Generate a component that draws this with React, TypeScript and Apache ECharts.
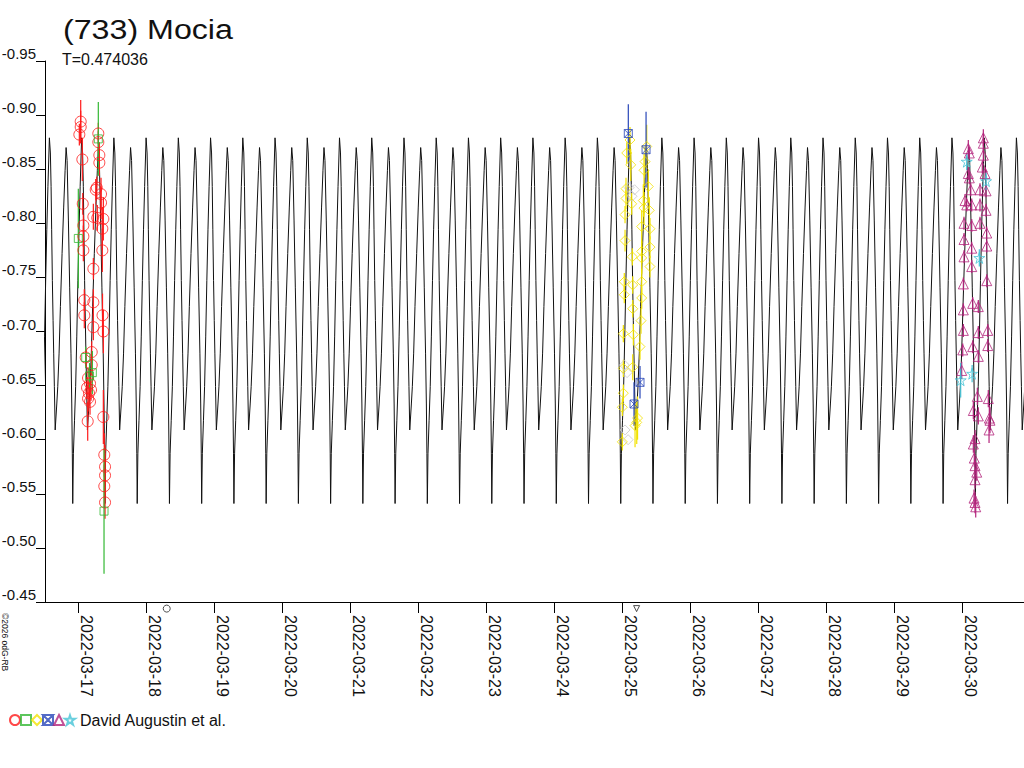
import React, { useEffect, useRef } from 'react';
import * as echarts from 'echarts';

const TITLE = '(733) Mocia';
const SUBTITLE = 'T=0.474036';
const CREDIT = 'David Augustin et al.';
const COPYRIGHT = '©2026 odG-RB';

// time axis: days since 2022-03-17 00:00
const X_MIN = -0.49;
const X_MAX = 13.907;
const DAY_TICKS = [0, 1, 2, 3, 4, 5, 6, 7, 8, 9, 10, 11, 12, 13];
const Y_MIN = -0.95;
const Y_MAX = -0.45;
const Y_STEP = 0.05;

// model lightcurve: one rotation period, phase 0 = taller maximum
const PERIOD = 0.474036;
const EPOCH = 0.0484;
const cyclePhase = [0, 0.031, 0.053, 0.071, 0.093, 0.115, 0.134, 0.155, 0.18, 0.23, 0.26, 0.301, 0.342, 0.394, 0.444, 0.488, 0.519, 0.55, 0.59, 0.63, 0.67, 0.695, 0.712, 0.725, 0.745, 0.78, 0.815, 0.85, 0.885, 0.92, 0.955, 1.0];
const cycleMag = [-0.879, -0.865, -0.834, -0.794, -0.747, -0.71, -0.68, -0.649, -0.609, -0.633, -0.649, -0.68, -0.723, -0.772, -0.815, -0.849, -0.87, -0.858, -0.803, -0.741, -0.68, -0.633, -0.587, -0.541, -0.587, -0.618, -0.649, -0.695, -0.747, -0.794, -0.834, -0.879];

// observations: [day, magnitude, error]
const redPoints = [
  [0.035, -0.894, 0.02], [0.035, -0.889, 0.015], [0.015, -0.882, 0.01], [0.059, -0.859, 0.02],
  [0.294, -0.883, 0.01], [0.294, -0.875, 0.01], [0.309, -0.863, 0.012], [0.309, -0.856, 0.012],
  [0.271, -0.833, 0.01], [0.256, -0.831, 0.01], [0.334, -0.827, 0.015], [0.334, -0.819, 0.015],
  [0.065, -0.818, 0.01], [0.221, -0.806, 0.012], [0.279, -0.805, 0.012], [0.368, -0.804, 0.02],
  [0.353, -0.795, 0.02], [0.074, -0.798, 0.01], [0.074, -0.788, 0.01], [0.074, -0.775, 0.01],
  [0.353, -0.775, 0.02], [0.221, -0.758, 0.01], [0.088, -0.729, 0.01], [0.221, -0.727, 0.012],
  [0.088, -0.715, 0.012], [0.356, -0.715, 0.02], [0.221, -0.704, 0.012], [0.368, -0.7, 0.02],
  [0.197, -0.681, 0.01], [0.109, -0.676, 0.008], [0.197, -0.669, 0.01], [0.143, -0.657, 0.01],
  [0.172, -0.652, 0.01], [0.128, -0.648, 0.01], [0.157, -0.643, 0.012], [0.187, -0.646, 0.01],
  [0.143, -0.638, 0.012], [0.172, -0.635, 0.012], [0.138, -0.617, 0.018], [0.368, -0.621, 0.025],
  [0.382, -0.586, 0.02], [0.393, -0.575, 0.02], [0.393, -0.567, 0.02], [0.382, -0.557, 0.02],
  [0.393, -0.542, 0.015],
];
const greenPoints = [
  [0.294, -0.878, 0.034], [0.0, -0.786, 0.046], [0.109, -0.676, 0.01], [0.165, -0.659, 0.012],
  [0.206, -0.662, 0.02], [0.378, -0.534, 0.058],
];
const yellowPoints = [
  [8.113, -0.877, 0.012], [8.065, -0.865, 0.01], [8.124, -0.854, 0.015], [8.359, -0.871, 0.02],
  [8.334, -0.857, 0.015], [8.319, -0.849, 0.015], [8.054, -0.832, 0.01], [8.054, -0.823, 0.01],
  [8.138, -0.818, 0.01], [8.382, -0.834, 0.015], [8.309, -0.821, 0.015], [8.319, -0.814, 0.015],
  [8.397, -0.812, 0.012], [8.04, -0.808, 0.008], [8.285, -0.797, 0.015], [8.407, -0.795, 0.01],
  [8.04, -0.784, 0.01], [8.147, -0.769, 0.008], [8.285, -0.774, 0.01], [8.407, -0.778, 0.01],
  [8.407, -0.76, 0.01], [8.285, -0.768, 0.015], [8.029, -0.746, 0.008], [8.153, -0.743, 0.008],
  [8.285, -0.746, 0.012], [8.029, -0.734, 0.008], [8.285, -0.731, 0.01], [8.153, -0.721, 0.008],
  [8.275, -0.71, 0.012], [8.015, -0.698, 0.008], [8.162, -0.697, 0.01], [8.26, -0.686, 0.012],
  [8.015, -0.666, 0.008], [8.153, -0.667, 0.012], [8.015, -0.643, 0.008], [8.0, -0.63, 0.008],
  [8.212, -0.616, 0.02], [8.187, -0.613, 0.02], [8.224, -0.62, 0.02], [8.0, -0.598, 0.008],
];
const greyPoints = [
  [8.099, -0.833, 0.0], [8.143, -0.825, 0.0], [8.18, -0.831, 0.0], [8.07, -0.662, 0.0],
  [8.03, -0.669, 0.0], [8.04, -0.609, 0.0], [8.085, -0.6, 0.0],
];
const bluePoints = [
  [8.088, -0.883, 0.027], [8.349, -0.868, 0.035], [8.26, -0.653, 0.015], [8.172, -0.633, 0.02],
];
const magentaPoints = [
  [13.309, -0.879, 0.008], [13.309, -0.874, 0.008], [13.088, -0.869, 0.008], [13.103, -0.865, 0.006],
  [13.309, -0.863, 0.006], [13.088, -0.846, 0.006], [13.294, -0.852, 0.006], [13.334, -0.846, 0.006],
  [13.103, -0.842, 0.006], [13.124, -0.831, 0.006], [13.26, -0.831, 0.006], [13.349, -0.83, 0.006],
  [13.04, -0.821, 0.006], [13.065, -0.817, 0.006], [13.138, -0.817, 0.006], [13.26, -0.817, 0.006],
  [13.349, -0.812, 0.006], [13.025, -0.8, 0.006], [13.138, -0.798, 0.006], [13.26, -0.8, 0.006],
  [13.359, -0.791, 0.006], [13.025, -0.785, 0.006], [13.138, -0.777, 0.006], [13.359, -0.779, 0.006],
  [13.025, -0.769, 0.006], [13.138, -0.76, 0.006], [13.359, -0.747, 0.006], [13.015, -0.744, 0.006],
  [13.153, -0.726, 0.006], [13.235, -0.723, 0.006], [13.015, -0.72, 0.006], [13.015, -0.701, 0.006],
  [13.374, -0.701, 0.006], [13.235, -0.699, 0.006], [13.006, -0.683, 0.006], [13.153, -0.686, 0.006],
  [13.374, -0.687, 0.006], [13.235, -0.677, 0.006], [12.991, -0.664, 0.008], [13.221, -0.64, 0.008],
  [13.382, -0.638, 0.008], [13.162, -0.627, 0.008], [13.235, -0.622, 0.008], [13.397, -0.62, 0.012],
  [13.407, -0.618, 0.012], [13.393, -0.609, 0.012], [13.187, -0.601, 0.008], [13.162, -0.596, 0.008],
  [13.176, -0.583, 0.008], [13.187, -0.576, 0.008], [13.212, -0.57, 0.008], [13.187, -0.563, 0.008],
  [13.172, -0.546, 0.008], [13.187, -0.542, 0.01], [13.197, -0.538, 0.01],
];
const cyanPoints = [
  [13.065, -0.857, 0.008], [13.349, -0.839, 0.008], [13.25, -0.768, 0.008], [13.144, -0.661, 0.008],
  [12.976, -0.655, 0.016],
];
// session markers drawn just below the time axis
const sessionCircle = [[1.3, -0.4439]];
const sessionTriangle = [[8.21, -0.4439]];

const FONT = '"Liberation Sans", Arial, Helvetica, sans-serif';
const STAR = 'path://M5,0L6.2,3.6L10,3.6L6.9,5.8L8.1,9.5L5,7.2L1.9,9.5L3.1,5.8L0,3.6L3.8,3.6Z';
const HOURGLASS = 'path://M0,0L10,0L0,10L10,10ZM0,0L0,10M10,0L10,10';

const sets = [
  { name: 's1', data: redPoints, color: '#ff1a1a', symbol: 'circle', size: 11 },
  { name: 's2', data: greenPoints, color: '#33b833', symbol: 'rect', size: 8 },
  { name: 's3', data: yellowPoints, color: '#f2e200', symbol: 'diamond', size: 10 },
  { name: 's4', data: bluePoints, color: '#2846b8', symbol: HOURGLASS, size: 8 },
  { name: 's5', data: magentaPoints, color: '#b3247c', symbol: 'triangle', size: 10 },
  { name: 's6', data: cyanPoints, color: '#45c3d6', symbol: STAR, size: 11 },
  { name: 'grey', data: greyPoints, color: '#c8c8c8', symbol: 'diamond', size: 10 },
];

function buildModel() {
  const out: number[][] = [];
  for (let k = -2; k <= 31; k++) {
    for (let i = 0; i < cyclePhase.length - 1; i++) {
      const t = EPOCH + (k + cyclePhase[i]) * PERIOD;
      if (t >= X_MIN - 0.6 && t <= X_MAX + 0.6) out.push([t, cycleMag[i]]);
    }
  }
  return out;
}

function fmtDay(v: number) {
  const d = new Date(Date.UTC(2022, 2, 17 + Math.round(v)));
  return d.toISOString().slice(0, 10);
}

export default function App() {
  const ref = useRef<HTMLDivElement>(null);
  useEffect(() => {
    if (!ref.current) return;
    const chart = echarts.init(ref.current, undefined, { renderer: 'svg' });
    const series: any[] = [
      {
        type: 'line',
        name: 'model',
        data: buildModel(),
        showSymbol: false,
        symbol: 'none',
        lineStyle: { color: '#111', width: 1 },
        silent: true,
        z: 1,
      },
    ];
    sets.forEach((s) => {
      series.push({
        type: 'custom',
        name: s.name + '-err',
        data: s.data,
        encode: { x: 0, y: 1 },
        silent: true,
        z: 2,
        renderItem: (_p: any, api: any) => {
          const x = api.value(0);
          const y = api.value(1);
          const e = api.value(2);
          const a = api.coord([x, y - e]);
          const b = api.coord([x, y + e]);
          return {
            type: 'line',
            shape: { x1: a[0], y1: a[1], x2: b[0], y2: b[1] },
            style: { stroke: s.color, lineWidth: 1.2 },
          };
        },
      });
    });
    sets.forEach((s) => {
      series.push({
        type: 'scatter',
        name: s.name,
        data: s.data.map((p) => [p[0], p[1]]),
        symbol: s.symbol,
        symbolSize: s.size,
        itemStyle: { color: 'rgba(0,0,0,0)', borderColor: s.color, borderWidth: 1 },
        silent: true,
        z: 3,
      });
    });
    series.push({
      type: 'scatter',
      name: 'session-a',
      data: sessionCircle,
      symbol: 'circle',
      symbolSize: 7,
      clip: false,
      silent: true,
      itemStyle: { color: 'rgba(0,0,0,0)', borderColor: '#222', borderWidth: 1 },
      z: 3,
    });
    series.push({
      type: 'scatter',
      name: 'session-b',
      data: sessionTriangle,
      symbol: 'triangle',
      symbolRotate: 180,
      symbolSize: 6,
      clip: false,
      silent: true,
      itemStyle: { color: 'rgba(0,0,0,0)', borderColor: '#222', borderWidth: 1 },
      z: 3,
    });

    chart.setOption({
      animation: false,
      backgroundColor: '#fff',
      textStyle: { fontFamily: FONT },
      grid: { left: 45, top: 61, width: 979, height: 541, containLabel: false, outerBoundsMode: 'none' },
      xAxis: {
        type: 'value',
        min: X_MIN,
        max: X_MAX,
        axisLine: { show: true, onZero: false, lineStyle: { color: '#000', width: 1 } },
        axisTick: { show: true, length: 11, customValues: DAY_TICKS, lineStyle: { color: '#000' } },
        axisLabel: {
          customValues: DAY_TICKS,
          formatter: (v: number) => fmtDay(v),
          rotate: -90,
          margin: 13,
          align: 'left',
          verticalAlign: 'bottom',
          fontSize: 16,
          fontFamily: FONT,
          color: '#111',
        },
        splitLine: { show: false },
      },
      yAxis: {
        type: 'value',
        inverse: true,
        min: Y_MIN,
        max: Y_MAX,
        interval: Y_STEP,
        axisLine: { show: true, onZero: false, lineStyle: { color: '#000', width: 1 } },
        axisTick: { show: true, length: 9, lineStyle: { color: '#000' } },
        axisLabel: {
          formatter: (v: number) => v.toFixed(2),
          margin: 9,
          verticalAlign: 'bottom',
          fontSize: 15,
          fontFamily: FONT,
          color: '#111',
        },
        splitLine: { show: false },
      },
      legend: {
        data: ['s1', 's2', 's3', 's4', 's5', 's6'],
        left: 4,
        top: 707,
        orient: 'horizontal',
        itemWidth: 10,
        itemHeight: 10,
        itemGap: -1,
        selectedMode: false,
        formatter: (name: string) => (name === 's6' ? CREDIT : ''),
        textStyle: { fontSize: 16, fontFamily: FONT, color: '#111' },
      },
      graphic: [
        {
          type: 'text',
          x: 63,
          y: 15,
          scaleX: 1.15,
          style: { text: TITLE, font: '28px ' + FONT, fill: '#111', align: 'left', verticalAlign: 'top' },
        },
        {
          type: 'text',
          x: 62,
          y: 51,
          style: { text: SUBTITLE, font: '16px ' + FONT, fill: '#111', align: 'left', verticalAlign: 'top' },
        },
        {
          type: 'text',
          x: 0,
          y: 613,
          rotation: -Math.PI / 2,
          style: { text: COPYRIGHT, font: '8.5px ' + FONT, fill: '#111', align: 'left', verticalAlign: 'bottom' },
        },
      ],
      series,
    });
    return () => chart.dispose();
  }, []);
  return <div ref={ref} style={{ position: 'fixed', left: 0, top: 0, width: 1024, height: 768 }} />;
}
